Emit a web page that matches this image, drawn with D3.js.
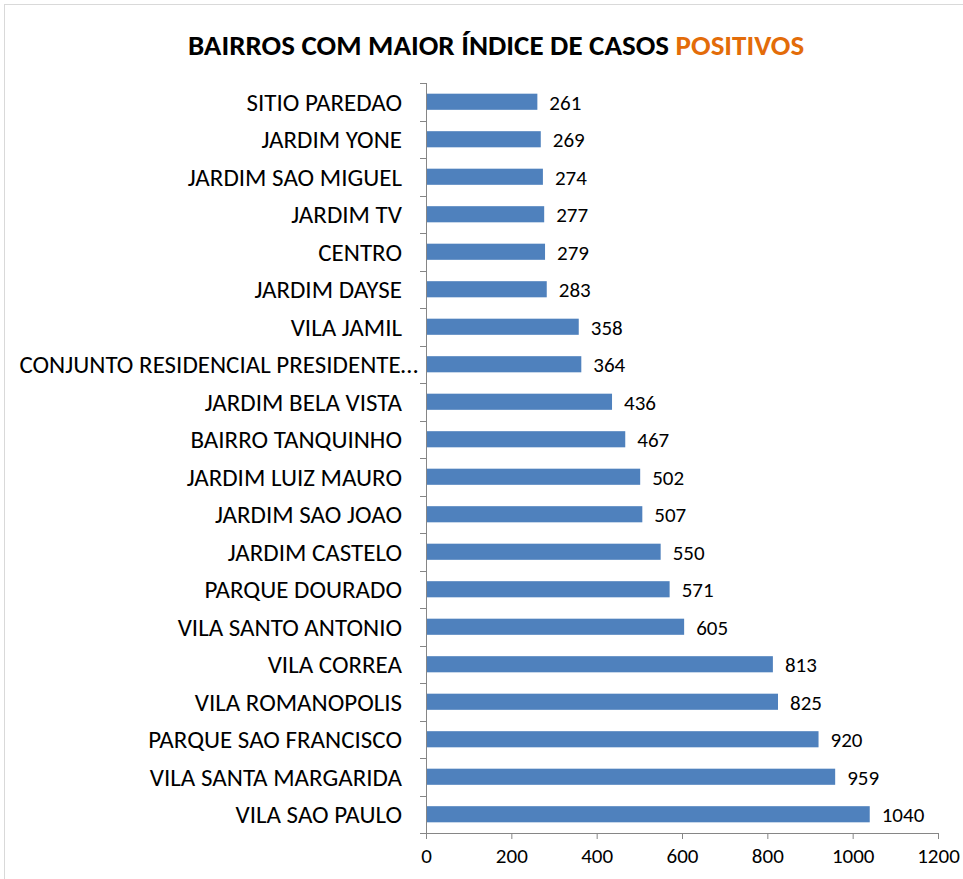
<!DOCTYPE html>
<html lang="en">
<head>
    <meta charset="UTF-8">
    <title>Bairros</title>
    <style>
        body { margin: 0; background: #fff; }
        text { font-family: Carlito, "Open Sans", "Noto Sans", sans-serif; fill: #000; }
        .axis path, .axis line { stroke: #868686; }
    </style>
</head>
<body>
    <svg id="container" width="963" height="879"></svg>

<script src="https://cdn.jsdelivr.net/npm/d3@7/dist/d3.min.js"></script>
<script>

    let bairros = ["SITIO PAREDAO", "JARDIM YONE", "JARDIM SAO MIGUEL", "JARDIM TV", "CENTRO",
        "JARDIM DAYSE", "VILA JAMIL", "CONJUNTO RESIDENCIAL PRESIDENTE…", "JARDIM BELA VISTA",
        "BAIRRO TANQUINHO", "JARDIM LUIZ MAURO", "JARDIM SAO JOAO", "JARDIM CASTELO",
        "PARQUE DOURADO", "VILA SANTO ANTONIO", "VILA CORREA", "VILA ROMANOPOLIS",
        "PARQUE SAO FRANCISCO", "VILA SANTA MARGARIDA", "VILA SAO PAULO"]
    let casos = [261, 269, 274, 277, 279, 283, 358, 364, 436, 467, 502, 507, 550, 571, 605,
        813, 825, 920, 959, 1040]
    let xTicks = [0, 200, 400, 600, 800, 1000, 1200]

    let data = bairros.map((b, i) => ({ bairro: b, casos: casos[i] }))

    let svg = d3.select("#container")

    // borda do grafico
    svg.append("rect")
        .attr("x", 4.5).attr("y", 4.5)
        .attr("width", 980).attr("height", 900)
        .attr("fill", "none")
        .attr("stroke", "#d9d9d9")

    let plotLeft = 426, plotRight = 938, plotTop = 83, plotBottom = 833

    let x = d3.scaleLinear().domain([0, 1200]).range([plotLeft, plotRight])
    let y = d3.scaleBand().domain(bairros).range([plotTop, plotBottom]).paddingInner(0.57).paddingOuter(0.285)

    // titulo
    let title = svg.append("text")
        .attr("x", 496).attr("y", 55)
        .attr("text-anchor", "middle")
        .style("font-weight", "bold")
        .style("font-size", "29px")
    title.append("tspan").text("BAIRROS COM MAIOR ÍNDICE DE CASOS ")
    title.append("tspan").style("fill", "#e36c09").text("POSITIVOS")

    // barras
    svg.selectAll(".bar")
        .data(data)
        .enter()
        .append("rect")
        .attr("class", "bar")
        .attr("x", x(0))
        .attr("y", d => y(d.bairro))
        .attr("width", d => x(d.casos) - x(0))
        .attr("height", y.bandwidth())
        .attr("fill", "#4f81bd")

    svg.selectAll(".val")
        .data(data)
        .enter()
        .append("text")
        .attr("class", "val")
        .attr("x", d => x(d.casos) + 12)
        .attr("y", d => y(d.bairro) + y.bandwidth() / 2 + 8)
        .style("font-size", "21px")
        .text(d => d.casos)

    // eixo x
    let xAxis = svg.append("g")
        .attr("class", "axis")
        .attr("transform", `translate(0,${plotBottom})`)
        .call(d3.axisBottom(x).tickValues(xTicks).tickFormat(d3.format("d"))
            .tickSize(6).tickSizeOuter(0).tickPadding(9))
    xAxis.selectAll("text").style("font-size", "21px").attr("fill", "#000")

    // eixo y com marcas entre categorias
    let yAxis = svg.append("g").attr("class", "axis")
    yAxis.append("line")
        .attr("x1", plotLeft + 0.5).attr("x2", plotLeft + 0.5)
        .attr("y1", plotTop).attr("y2", plotBottom)
    let step = y.step()
    yAxis.selectAll(".tk")
        .data(d3.range(bairros.length + 1))
        .enter()
        .append("line")
        .attr("x1", plotLeft - 6).attr("x2", plotLeft)
        .attr("y1", i => Math.round(plotTop + i * step) + 0.5)
        .attr("y2", i => Math.round(plotTop + i * step) + 0.5)

    // rotulo truncado fica mais perto do eixo
    svg.selectAll(".lbl")
        .data(data)
        .enter()
        .append("text")
        .attr("class", "lbl")
        .attr("x", d => d.bairro.endsWith("…") ? 418 : 402)
        .attr("y", d => y(d.bairro) + y.bandwidth() / 2 + 9)
        .attr("text-anchor", "end")
        .style("font-size", "25px")
        .text(d => d.bairro)

</script>
</body>
</html>
